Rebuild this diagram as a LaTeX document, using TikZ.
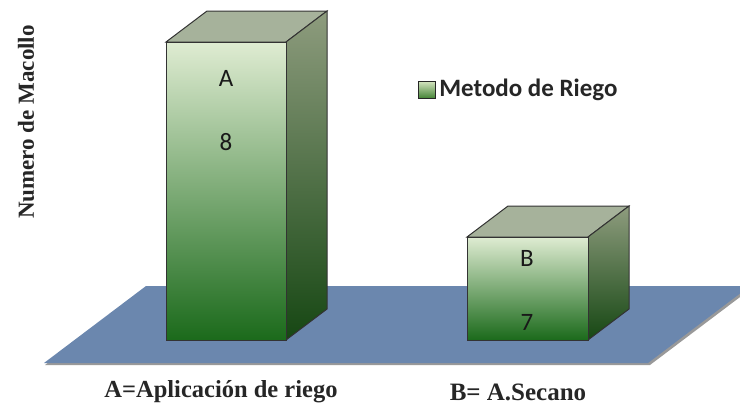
\documentclass[tikz,border=0pt]{standalone}
\usepackage{fontspec}
\setmainfont{Liberation Serif}
\newfontfamily\calib{Carlito}
\definecolor{sol}{HTML}{6B87AE}
\definecolor{faceHaut}{HTML}{DFECD2}
\definecolor{faceMil}{HTML}{9CBA6B}
\definecolor{faceBas}{HTML}{1B6A1B}
\definecolor{coteHaut}{HTML}{8E9C7E}
\definecolor{coteBas}{HTML}{164713}
\definecolor{dessus}{HTML}{A6B29B}
\newcommand{\prx}{41}
\newcommand{\pry}{31}
% barre 3D : x gauche, x droite, y haut, y bas
\newcommand{\barre}[4]{
        \fill[dessus,draw=black!80,line width=1pt] (#1,#3) -- ++(\prx,-\pry) -- ++(#2-#1,0) -- (#2,#3) -- cycle;
        \shade[top color=coteHaut,bottom color=coteBas,draw=black!80,line width=1pt] (#2,#3) -- ++(\prx,-\pry) -- ++(0,#4-#3) -- (#2,#4) -- cycle;
        \shade[top color=faceHaut,middle color=faceMil,bottom color=faceBas,draw=black!80,line width=1pt] (#1,#3) rectangle (#2,#4);
}
\tikzset{
        valeur/.style={font=\calib\fontsize{25}{28}\selectfont,text=black!90},
        etiq/.style={font=\bfseries\fontsize{25}{28}\selectfont,text=black!85}
}

\begin{document}
\begin{tikzpicture}[x=1pt,y=-1pt]
        \useasboundingbox (0,0) rectangle (740,408);
        % sol
        \fill[black!40] (45,365) -- (147,288) -- (752,288) -- (650,365) -- cycle;
        \fill[sol] (44,363) -- (146,286) -- (750,286) -- (648,363) -- cycle;
        % barres
        \barre{166}{286}{42}{340}
        \barre{467}{588}{237}{340}
        \node[valeur] (lettreA) at (226,78) {A};
        \node[valeur] (valA) at (226,142) {8};
        \node[valeur] (lettreB) at (527,258) {B};
        \node[valeur] (valB) at (527,322) {7};
        % legende
        \node[draw=black!85,line width=1.2pt,top color=faceHaut!80!faceMil,bottom color=faceBas!70!faceMil,minimum size=17pt,inner sep=0pt] (carre) at (427,90) {};
        \node[font=\calib\bfseries\fontsize{25}{28}\selectfont,text=black!85,anchor=west,inner sep=3pt] (leg) at (carre.east) {Metodo de Riego};
        % axes
        \node[etiq,rotate=90,font=\bfseries\fontsize{23}{26}\selectfont] (axey) at (26,122) {Numero de Macollo};
        \node[etiq,font=\bfseries\fontsize{24.5}{27}\selectfont] (nomA) at (221,392) {A=Aplicación de riego};
        \node[etiq] (nomB) at (518,392) {B= A.Secano};
\end{tikzpicture}
\end{document}
